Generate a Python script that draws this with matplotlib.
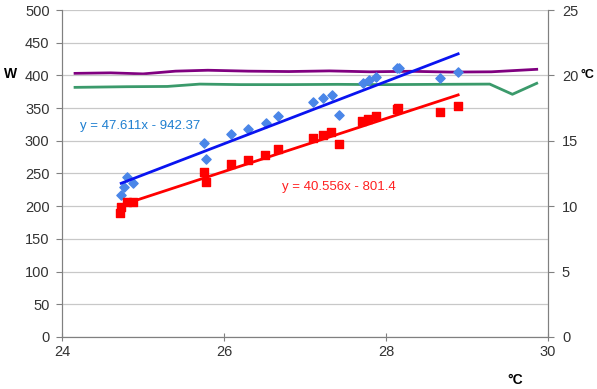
import numpy as np
import matplotlib
matplotlib.use("Agg")
import matplotlib.pyplot as plt

plt.rcParams["font.family"] = ["Liberation Sans", "DejaVu Sans"]

# Scatter data (outdoor temperature in °C vs power in W)
blue_x = [24.73, 24.76, 24.80, 24.88, 25.75, 25.78, 26.09, 26.30, 26.52, 26.66,
          27.10, 27.22, 27.33, 27.42, 27.72, 27.79, 27.88, 28.13, 28.16, 28.66, 28.89]
blue_y = [217, 230, 244, 235, 297, 272, 310, 318, 328, 338,
          360, 365, 370, 339, 389, 393, 398, 411, 412, 396, 405]

red_x = [24.72, 24.73, 24.80, 24.87, 25.75, 25.78, 26.08, 26.29, 26.51, 26.66,
         27.10, 27.22, 27.32, 27.42, 27.70, 27.78, 27.88, 28.13, 28.15, 28.66, 28.89]
red_y = [189, 199, 206, 206, 253, 237, 264, 271, 279, 287,
         304, 309, 314, 295, 331, 334, 338, 348, 350, 344, 354]

# Trendline coefficients
blue_fit = (47.611, -942.37)
red_fit = (40.556, -801.4)

# Secondary axis lines (°C)
purple_x = [24.16, 24.6, 25.0, 25.4, 25.8, 26.3, 26.8, 27.3, 27.8, 28.3, 28.8, 29.3, 29.86]
purple_y = [20.16, 20.2, 20.12, 20.33, 20.4, 20.33, 20.3, 20.35, 20.28, 20.32, 20.26, 20.28, 20.47]

green_x = [24.16, 24.8, 25.3, 25.7, 26.2, 26.8, 27.4, 28.0, 28.6, 29.28, 29.56, 29.86]
green_y = [19.09, 19.14, 19.16, 19.34, 19.3, 19.3, 19.32, 19.3, 19.32, 19.34, 18.56, 19.4]

fig = plt.figure(figsize=(5.97, 3.89), dpi=100)
ax = fig.add_axes([0.104, 0.134, 0.814, 0.840])
ax2 = ax.twinx()

ax.set_xlim(24, 30)
ax.set_ylim(0, 500)
ax2.set_ylim(0, 25)
ax.set_xticks([24, 26, 28, 30])
ax.set_yticks(range(0, 501, 50))
ax2.set_yticks(range(0, 26, 5))

ax.grid(axis="y", color="#c8c8c8", linewidth=0.9)
ax.set_axisbelow(True)

gray = "#808080"
lab = "#333333"
for a in (ax, ax2):
    a.spines["top"].set_visible(False)
    for s in ("left", "right", "bottom"):
        a.spines[s].set_color(gray)
ax.tick_params(axis="y", direction="out", length=4, color=gray, labelsize=10.5,
               labelcolor=lab, pad=5)
ax.tick_params(axis="x", direction="inout", length=6, color=gray, labelsize=10.5,
               labelcolor=lab, pad=3)
ax2.tick_params(axis="y", direction="out", length=4, color=gray, labelsize=10.5,
                labelcolor=lab, pad=6)

# secondary lines behind scatter
ax2.plot(purple_x, purple_y, color="#800080", linewidth=2)
ax2.plot(green_x, green_y, color="#3b9a6b", linewidth=2)
ax.set_zorder(ax2.get_zorder() + 1)
ax.patch.set_visible(False)
ax2.grid(False)

ax.scatter(blue_x, blue_y, marker="D", s=22, color="#4a86e8", zorder=3)
ax.scatter(red_x, red_y, marker="s", s=36, color="#ff0000", zorder=3)

xb = np.array([min(blue_x), max(blue_x)])
ax.plot(xb, blue_fit[0] * xb + blue_fit[1], color="#0a14f0", linewidth=2, zorder=4)
xr = np.array([min(red_x), max(red_x)])
ax.plot(xr, red_fit[0] * xr + red_fit[1], color="#ff0000", linewidth=2, zorder=4)

ax.text(24.22, 318, "y = 47.611x - 942.37", color="#1e7fd0", fontsize=9.5)
ax.text(26.72, 225, "y = 40.556x - 801.4", color="#ff2020", fontsize=9.5)

fig.text(0.007, 0.81, "W", fontsize=10, fontweight="bold", va="center")
fig.text(0.973, 0.806, "°C", fontsize=9, fontweight="bold", va="center")
fig.text(0.85, 0.024, "°C", fontsize=10, fontweight="bold", va="center")

fig.savefig("out.png", dpi=100)
